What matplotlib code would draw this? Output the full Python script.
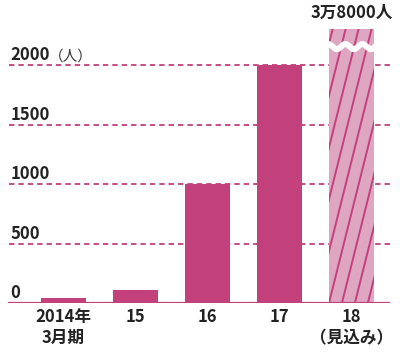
import numpy as np
import matplotlib.pyplot as plt
from matplotlib.patches import Rectangle

# data
categories = ['2014年\n3月期', '15', '16', '17', '18\n（見込み）']
values = [40, 110, 1000, 2000, 38000]
yticks = [0, 500, 1000, 1500, 2000]
top_label = '3万8000人'
unit_label = '（人）'

MAGENTA = '#c2407c'
PINK = '#dfa6c2'
jp_font = ['Noto Sans CJK JP', 'DejaVu Sans']

fig = plt.figure(figsize=(4, 3.53), dpi=100)
ax = fig.add_axes([5 / 400, 50 / 353, 385 / 400, 278 / 353])
ymax = 2340
ax.set_xlim(-0.8125, 4.535)
ax.set_ylim(0, ymax)
ax.axis('off')

# gridlines
for t in yticks[1:]:
    ax.axhline(t, xmin=0.01, xmax=1, color=MAGENTA, lw=1.3, ls=(0, (3, 2.2)), zorder=1)
ax.axhline(0, xmin=0.01, xmax=1, color=MAGENTA, lw=1.6, zorder=4)

# tick labels
for t in yticks:
    ax.text(-0.74, t + 42, str(t), fontsize=12, fontweight='bold', family=jp_font,
            ha='left', va='baseline', color='#222222')
ax.text(-0.21, 2000 + 42, unit_label, fontsize=10.5, family=jp_font,
        ha='left', va='baseline', color='#333333')

width = 0.625
cap = 2310
x = np.arange(len(values))
shown = [min(v, cap) for v in values]
ax.bar(x[:-1], shown[:-1], width=width, color=MAGENTA, zorder=2)

# projected bar (truncated, hatched)
xl = x[-1] - width / 2
rect = Rectangle((xl, 0), width, shown[-1], facecolor=PINK, edgecolor='none', zorder=2)
ax.add_patch(rect)
spacing = 0.18
slope = 2424
for k in range(-30, 10):
    x0 = xl + k * spacing
    ln, = ax.plot([x0, x0 + cap / slope], [0, cap], color=MAGENTA, lw=1.4, zorder=3)
    ln.set_clip_path(rect)

# wave break
xw = np.linspace(x[-1] - 0.38, x[-1] + 0.39, 200)
yb = 2158
ax.plot(xw, yb + 22 * np.sin((xw - xw[0]) / 0.236 * 2 * np.pi), color='white', lw=4.3,
        zorder=5, solid_capstyle='butt')

ax.text(x[-1], ymax + 100, top_label, fontsize=12, fontweight='bold', family=jp_font,
        ha='center', va='center', color='#222222')

# category labels
for xi, lab in zip(x, categories):
    ax.text(xi, -45, lab, fontsize=12, fontweight='bold', family=jp_font,
            ha='center', va='top', color='#222222', linespacing=1.2)

fig.savefig('out.png', dpi=100)
